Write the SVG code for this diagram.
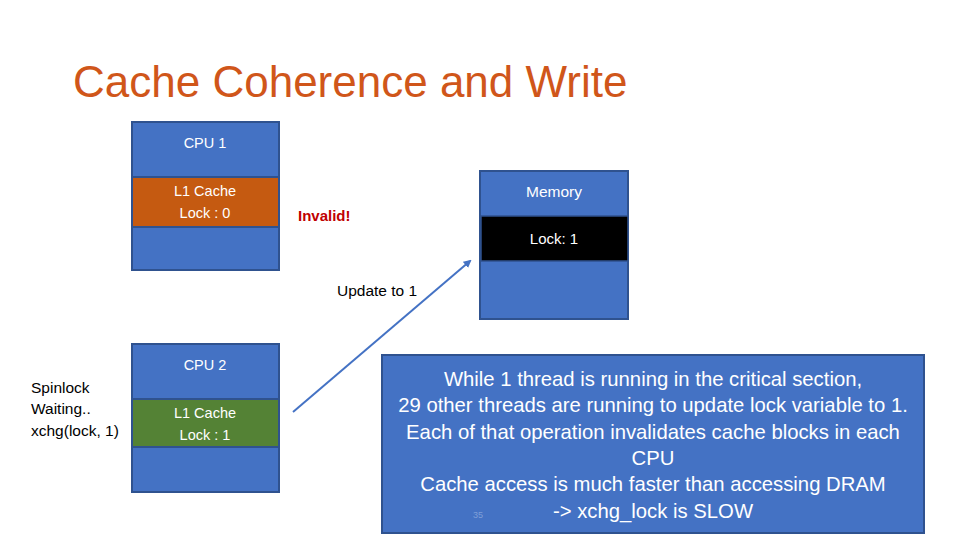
<svg xmlns="http://www.w3.org/2000/svg" width="960" height="540" viewBox="0 0 960 540">
<style>
.box{fill:#4472c4;stroke:#2f528f;stroke-width:2}
.lbl{font-family:"Liberation Sans",Arial,sans-serif;font-size:14.5px;fill:#ffffff;text-anchor:middle}
.dark{font-family:"Liberation Sans",Arial,sans-serif;font-size:15.5px;fill:#000000}
.big{font-family:"Liberation Sans",Arial,sans-serif;font-size:20.3px;fill:#ffffff;text-anchor:middle}
</style>
<defs>
<marker id="ah" markerWidth="8" markerHeight="8" refX="6" refY="4" orient="auto" markerUnits="userSpaceOnUse">
<path d="M0,0 L8,4 L0,8 Z" fill="#4472c4"/>
</marker>
</defs>
<rect width="960" height="540" fill="#ffffff"/>
<text x="73" y="97" font-family="'Liberation Sans',Arial,sans-serif" font-size="44" fill="#d0561a">Cache Coherence and Write</text>

<g id="cpu1">
<rect class="box" x="132" y="122" width="147" height="148"/>
<rect x="132" y="177" width="147" height="50" fill="#c55a11" stroke="#2f528f" stroke-width="2"/>
<text class="lbl" x="205" y="148">CPU 1</text>
<text class="lbl" x="205" y="196">L1 Cache</text>
<text class="lbl" x="205" y="218">Lock : 0</text>
</g>

<g id="memory">
<rect class="box" x="480" y="171" width="148" height="148"/>
<rect x="481" y="216" width="147" height="45" fill="#000000" stroke="#2f528f" stroke-width="1.5"/>
<text class="lbl" x="554" y="197" style="font-size:15.5px">Memory</text>
<text class="lbl" x="554" y="244" style="font-size:15px">Lock: 1</text>
</g>

<g id="cpu2">
<rect class="box" x="132" y="344" width="147" height="148"/>
<rect x="132" y="399" width="147" height="48" fill="#548235" stroke="#2f528f" stroke-width="2"/>
<text class="lbl" x="205" y="370">CPU 2</text>
<text class="lbl" x="205" y="418">L1 Cache</text>
<text class="lbl" x="205" y="440">Lock : 1</text>
</g>

<g id="invalid">
<text x="298" y="221" font-family="'Liberation Sans',Arial,sans-serif" font-size="15" font-weight="bold" fill="#c00000">Invalid!</text>
</g>

<g id="spinlock">
<text class="dark" x="31" y="393">Spinlock</text>
<text class="dark" x="31" y="414">Waiting..</text>
<text class="dark" x="31" y="436">xchg(lock, 1)</text>
</g>

<g id="connectors">
<line x1="293" y1="412" x2="470" y2="261" stroke="#4472c4" stroke-width="2" marker-end="url(#ah)"/>
<text class="dark" x="337" y="296">Update to 1</text>
</g>

<g id="note">
<rect class="box" x="382" y="355" width="542" height="178"/>
<text class="big" x="653" y="386">While 1 thread is running in the critical section,</text>
<text class="big" x="653" y="412">29 other threads are running to update lock variable to 1.</text>
<text class="big" x="653" y="439">Each of that operation invalidates cache blocks in each</text>
<text class="big" x="653" y="465">CPU</text>
<text class="big" x="653" y="491">Cache access is much faster than accessing DRAM</text>
<text class="big" x="653" y="518">-&gt; xchg_lock is SLOW</text>
<text x="473" y="518" font-family="'Liberation Sans',Arial,sans-serif" font-size="9" fill="#7f9fd8">35</text>
</g>
</svg>
